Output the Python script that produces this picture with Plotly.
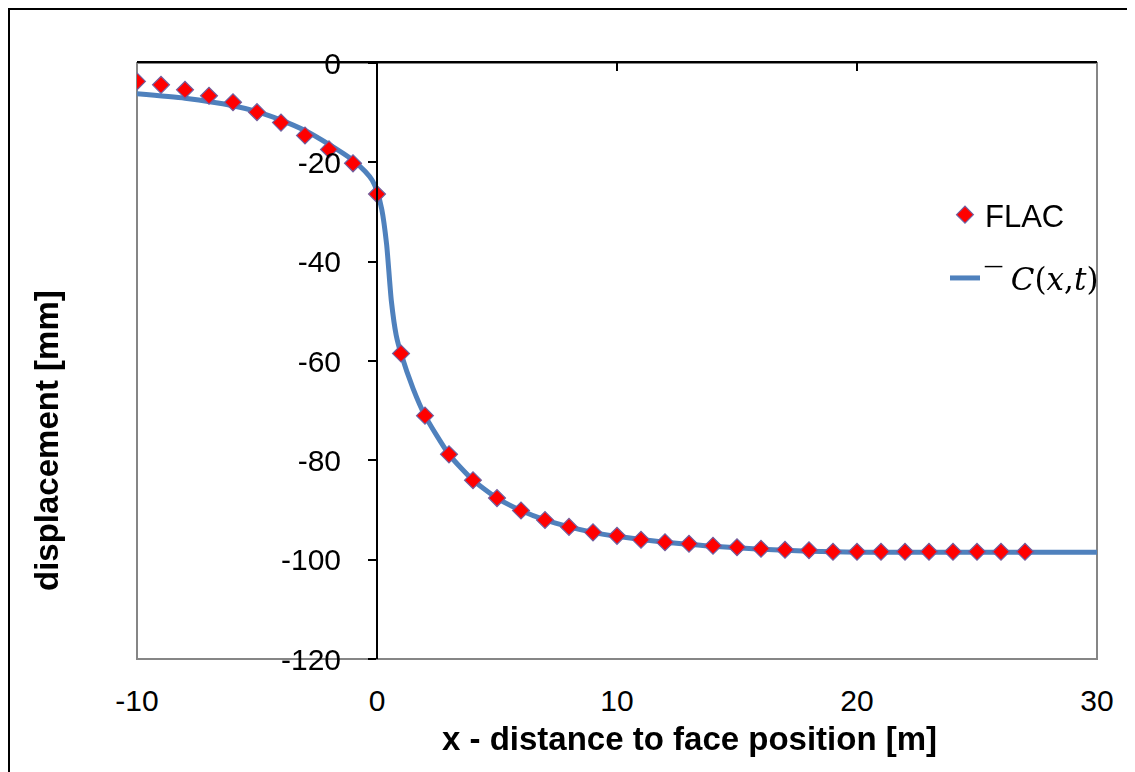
import plotly.graph_objects as go

# ---- data ----
flac_x = list(range(-10, 28))
flac_y = [-3.7, -4.4, -5.4, -6.6, -7.9, -9.9, -12.0, -14.6, -17.4, -20.2,
          -26.4, -58.5, -71.0, -78.8, -84.0, -87.6, -90.1, -92.0, -93.4, -94.5,
          -95.2, -96.0, -96.5, -96.8, -97.2, -97.5, -97.8, -98.0, -98.1, -98.4,
          -98.4, -98.4, -98.4, -98.4, -98.4, -98.4, -98.4, -98.4]

c_x = [-10, -8, -6, -5, -4, -3, -2, -1, -0.5, -0.2, 0, 0.2, 0.4, 0.6, 0.8, 1,
       1.5, 2, 3, 4, 5, 6, 7, 8, 9, 10, 12, 14, 16, 18, 20, 25, 30]
c_y = [-6.2, -7.1, -8.6, -9.8, -11.5, -13.6, -16.4, -19.6, -21.8, -23.6, -25.8,
       -29.5, -36.5, -48.0, -54.8, -58.5, -65.5, -71.0, -78.8, -84.0, -87.6,
       -90.1, -92.0, -93.4, -94.5, -95.3, -96.5, -97.3, -97.9, -98.3, -98.5,
       -98.5, -98.5]

x_ticks = [-10, 0, 10, 20, 30]
x_tick_labels = ["-10", "0", "10", "20", "30"]
y_ticks = [0, -20, -40, -60, -80, -100, -120]
y_tick_labels = ["0", "-20", "-40", "-60", "-80", "-100", "-120"]

OFF = 8  # page body margin
W, H = 1127, 764
L, R, T, B = 129, 38, 55, 113
PW, PH = W - L - R, H - T - B


def px(xp):
    """page pixel x -> paper fraction"""
    return (xp - OFF - L) / PW


def py(yp):
    """page pixel y -> paper fraction"""
    return (H - B - (yp - OFF)) / PH


LINE_COLOR = "#4F81BD"
FONT = "Liberation Sans, Arial, sans-serif"

fig = go.Figure()

fig.add_trace(go.Scatter(
    x=c_x, y=c_y, mode="lines",
    name="¯ <span style='font-family:\"DejaVu Serif\"'><i>C</i>(<i>x</i>,<i>t</i>)</span>",
    line=dict(color=LINE_COLOR, width=5, shape="spline", smoothing=0.6),
    legendgroup="c", legendrank=2,
))
fig.add_trace(go.Scatter(
    x=flac_x, y=flac_y, mode="markers", name="FLAC",
    marker=dict(symbol="diamond", size=13, color="#FF0000",
                line=dict(color="#7060A0", width=1.2)),
    legendgroup="f", legendrank=1,
))
# invisible trace to activate the top (zero-line) x axis
fig.add_trace(go.Scatter(
    x=flac_x, y=flac_y, xaxis="x2", mode="markers", opacity=0,
    showlegend=False, hoverinfo="skip",
))

fig.update_layout(
    width=W, height=H,
    margin=dict(l=L, r=R, t=T, b=B),
    paper_bgcolor="white", plot_bgcolor="white",
    font=dict(family=FONT, size=30, color="black"),
    showlegend=True,
    legend=dict(
        x=px(945), y=py(188), xanchor="left", yanchor="top",
        bgcolor="rgba(0,0,0,0)", font=dict(size=31),
        traceorder="grouped", tracegroupgap=20,
    ),
    xaxis=dict(
        range=[-10, 30], tickvals=x_ticks, ticktext=x_tick_labels,
        showgrid=False, zeroline=False,
        showline=False, ticks="", ticklabelstandoff=21,
        tickfont=dict(size=30),
    ),
    xaxis2=dict(
        range=[-10, 30], tickvals=x_ticks, overlaying="x", side="top",
        anchor="y", showgrid=False, zeroline=False, showline=True,
        linecolor="black", linewidth=2, ticks="inside", ticklen=8,
        tickwidth=2, tickcolor="black", showticklabels=False,
    ),
    yaxis=dict(
        range=[-120, 0], tickvals=y_ticks, ticktext=y_tick_labels,
        showgrid=False, zeroline=False,
        showline=True, linecolor="black", linewidth=2, ticks="outside",
        ticklen=8, tickwidth=2, tickcolor="black",
        anchor="free", position=0.25, ticklabelstandoff=21,
        tickfont=dict(size=30),
    ),
    shapes=[
        dict(type="rect", xref="paper", yref="paper", x0=0, x1=1, y0=0, y1=1,
             line=dict(color="#868686", width=2), layer="below"),
        dict(type="path", xref="paper", yref="paper",
             path=f"M {px(9)} {py(780)} L {px(9)} {py(9)} L {px(1140)} {py(9)}",
             line=dict(color="black", width=2)),
    ],
    annotations=[
        dict(text="<b>x - distance to face position [m]</b>", xref="paper",
             yref="paper", x=px(689), y=py(738), showarrow=False,
             font=dict(size=33), xanchor="center", yanchor="middle"),
        dict(text="<b>displacement [mm]</b>", xref="paper", yref="paper",
             x=px(46), y=py(441), showarrow=False, textangle=-90,
             font=dict(size=33), xanchor="center", yanchor="middle"),
    ],
)

fig.write_html("out.html")
